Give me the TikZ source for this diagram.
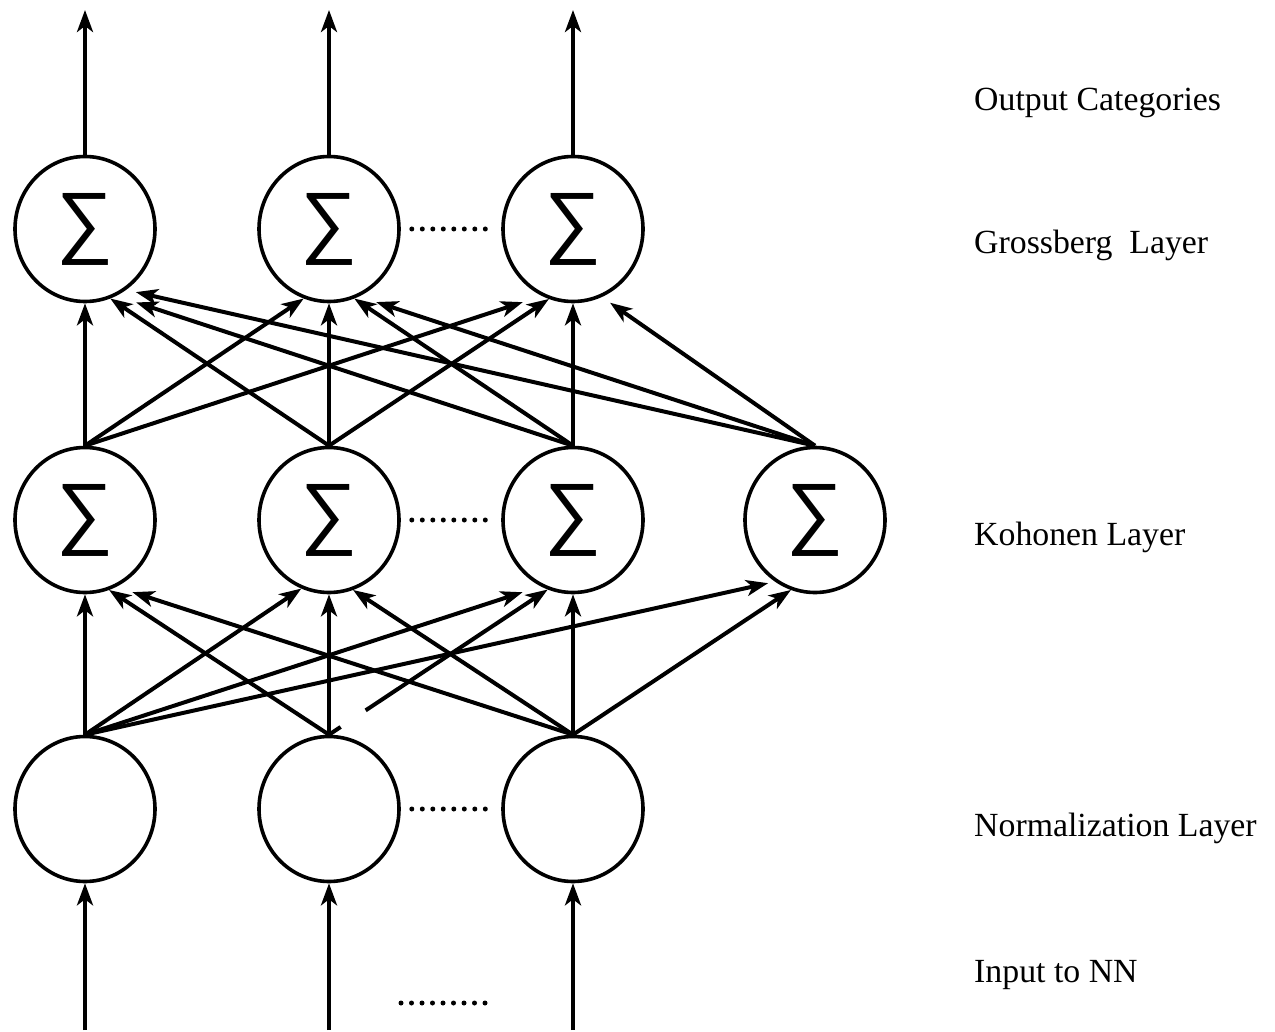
\documentclass[tikz,border=0pt]{standalone}
\usepackage{fontspec}
\setmainfont{Liberation Serif}
\newfontfamily\sumfont{Liberation Sans}
\usetikzlibrary{arrows.meta,shapes.geometric}

\begin{document}
\begin{tikzpicture}[x=1pt,y=-1pt,>={Stealth[length=22pt,width=16pt,inset=6pt]},
    unit/.style={draw,ellipse,line width=3.6pt,minimum width=140pt,minimum height=145pt,
      inner sep=0pt,font=\sumfont\fontsize{80}{80}\selectfont},
    link/.style={->,line width=4pt},
    dots/.style={line width=5pt,line cap=round,dash pattern=on 0pt off 10.5pt},
    layer/.style={anchor=base west,inner sep=0pt,font=\fontsize{33.8}{40}\selectfont}]
  \useasboundingbox (0,0) rectangle (1275,1032);
  % grossberg layer
  \foreach \i/\x in {1/85,2/329,3/573}
    \node[unit] (g\i) at (\x,229) {∑};
  % kohonen layer
  \foreach \i/\x in {1/85,2/329,3/573,4/815}
    \node[unit] (k\i) at (\x,520) {∑};
  % normalization layer
  \foreach \i/\x in {1/85,2/329,3/573}
    \node[unit] (n\i) at (\x,809) {};
  % outputs and inputs
  \foreach \i/\x in {1/85,2/329,3/573}{
    \coordinate (out\i) at (\x,10);
    \coordinate (in\i) at (\x,1030);
    \draw[link,line width=4.4pt] (g\i.north) -- (out\i);
    \draw[link,line width=4.4pt] (in\i) -- (n\i.south);
  }
  % kohonen -> grossberg
  \foreach \s/\t/\a/\g in {k1/g1/270/0,k1/g2/250/0,k1/g3/245/20,
      k2/g1/290/0,k2/g2/270/0,k2/g3/251/0,
      k3/g1/295/21,k3/g2/290/0,k3/g3/270/0,
      k4/g1/304/10,k4/g2/294/18,k4/g3/293/10}
    \draw[link,shorten >=\g pt] (\s.north) -- (\t.\a);
  % normalization -> kohonen
  \foreach \s/\t/\a/\g in {n1/k1/270/0,n1/k2/248/0,n1/k3/244/19,n1/k4/237/7,
      n2/k1/289/0,n2/k2/270/0,
      n3/k1/295/17,n3/k2/289/0,n3/k3/270/0,n3/k4/251/0}
    \draw[link,shorten >=\g pt] (\s.north) -- (\t.\a);
  \draw[link,dash pattern=on 14pt off 30pt on 400pt] (n2.north) -- (k3.250);
  % dots between units
  \draw[dots,shorten <=11pt,shorten >=11pt] (g2.east) -- (g3.west);
  \draw[dots,shorten <=11pt,shorten >=11pt] (k2.east) -- (k3.west);
  \draw[dots,shorten <=11pt,shorten >=11pt] (n2.east) -- (n3.west);
  \coordinate (dotl) at (401,1003);
  \coordinate (dotr) at (492,1003);
  \draw[dots] (dotl) -- (dotr);
  % layer names
  \node[layer] (lout) at (974,111) {Output Categories};
  \node[layer] (lgro) at (974,254) {Grossberg~~Layer};
  \node[layer] (lkoh) at (974,545) {Kohonen Layer};
  \node[layer] (lnor) at (974,836) {Normalization Layer};
  \node[layer] (linp) at (974,982) {Input to NN};
\end{tikzpicture}
\end{document}
